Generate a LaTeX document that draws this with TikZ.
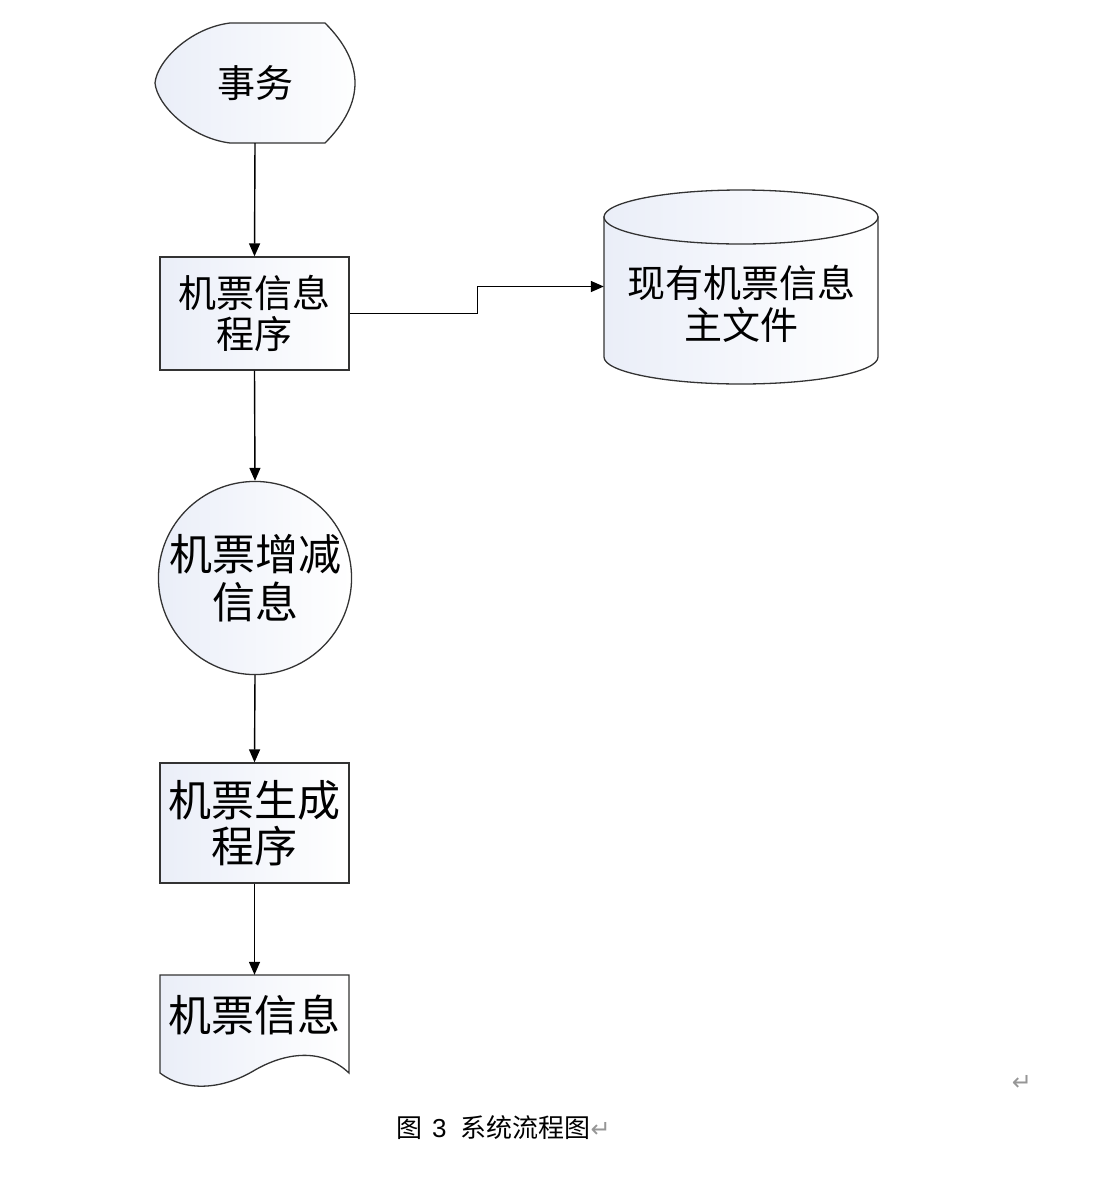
\documentclass[tikz,border=0pt]{standalone}
\usepackage{fontspec}
\newfontfamily\cjk{Noto Sans CJK SC}
\newfontfamily\dejavu{DejaVu Sans}
\usetikzlibrary{arrows.meta}
\definecolor{fillA}{RGB}{234,238,248}
\definecolor{markgray}{RGB}{150,150,150}
\tikzset{
  shapefill/.style={left color=fillA, right color=white},
  outline/.style={draw=black!80, line width=1.3pt},
  flowarrow/.style={draw=black, line width=1.4pt, -{Triangle[length=13pt,width=11pt]}},
  txt/.style={font=\cjk\fontsize{38}{41}\selectfont, align=center, inner sep=0pt},
  bigtxt/.style={font=\cjk\fontsize{43}{47}\selectfont, align=center, inner sep=0pt},
  procbox/.style={outline, shapefill, rectangle, minimum width=189pt, inner sep=0pt}
}
\begin{document}
\begin{tikzpicture}[x=1pt,y=-1pt]
\useasboundingbox (0,0) rectangle (1094,1179);
% display shape (transaction)
\path[outline, shapefill] (230,23) -- (325,23) .. controls (365,63) and (365,103) .. (325,143)
  -- (230,143) .. controls (190,138) and (157,105) .. (155,83) .. controls (157,61) and (190,28) .. (230,23) -- cycle;
\node[txt, minimum height=120pt] (txn) at (255,83) {事务};
% process 1
\node[procbox, minimum height=113pt, txt, draw=black!80] (p1) at (254.5,313.5) {机票信息\\程序};
% database cylinder
\path[outline, shapefill] (604,217) -- (604,357) arc[start angle=180, end angle=360, x radius=137pt, y radius=27pt] -- (878,217) -- cycle;
\path[outline, shapefill] (741,217) ellipse[x radius=137pt, y radius=27pt];
\node[minimum width=274pt, minimum height=193pt, inner sep=0pt] (db) at (741,286.5) {};
\node[txt, font=\cjk\fontsize{38}{42}\selectfont] (dbt) at (741,304) {现有机票信息\\主文件};
% circle
\node[outline, shapefill, circle, minimum size=186pt, inner sep=0pt, bigtxt, font=\cjk\fontsize{43}{48}\selectfont] (c1) at (255,578) {机票增减\\信息};
% process 2
\node[procbox, minimum height=120pt, bigtxt, draw=black!80, font=\cjk\fontsize{43}{46}\selectfont] (p2) at (254.5,823) {机票生成\\程序};
% document
\path[outline, shapefill] (160,975) -- (349,975) -- (349,1073) .. controls (325,1050) and (290,1050) .. (255,1070)
  .. controls (222,1090) and (185,1092) .. (160,1073) -- cycle;
\node[bigtxt, minimum height=80pt] (doc) at (254.5,1015) {机票信息};
% connectors
\draw[flowarrow] (txn.south) -- (p1.north);
\draw[flowarrow] (p1.south) -- (c1.north);
\draw[flowarrow] (c1.south) -- (p2.north);
\draw[flowarrow] (p2.south) -- (doc.north);
\draw[flowarrow] (p1.east) -- ++(128,0) |- (db.west);
% caption
\node[anchor=west, inner sep=0pt, font=\cjk\fontsize{26}{30}\selectfont] (cap) at (396,1128) {图\hspace{10pt}{\fontspec{Liberation Sans}3}\hspace{14pt}系统流程图{\dejavu\fontsize{24}{26}\selectfont\color{markgray}↵}};
\node[inner sep=0pt, font=\dejavu\fontsize{24}{26}\selectfont, text=markgray] (mark) at (1022,1083) {↵};
\end{tikzpicture}
\end{document}
